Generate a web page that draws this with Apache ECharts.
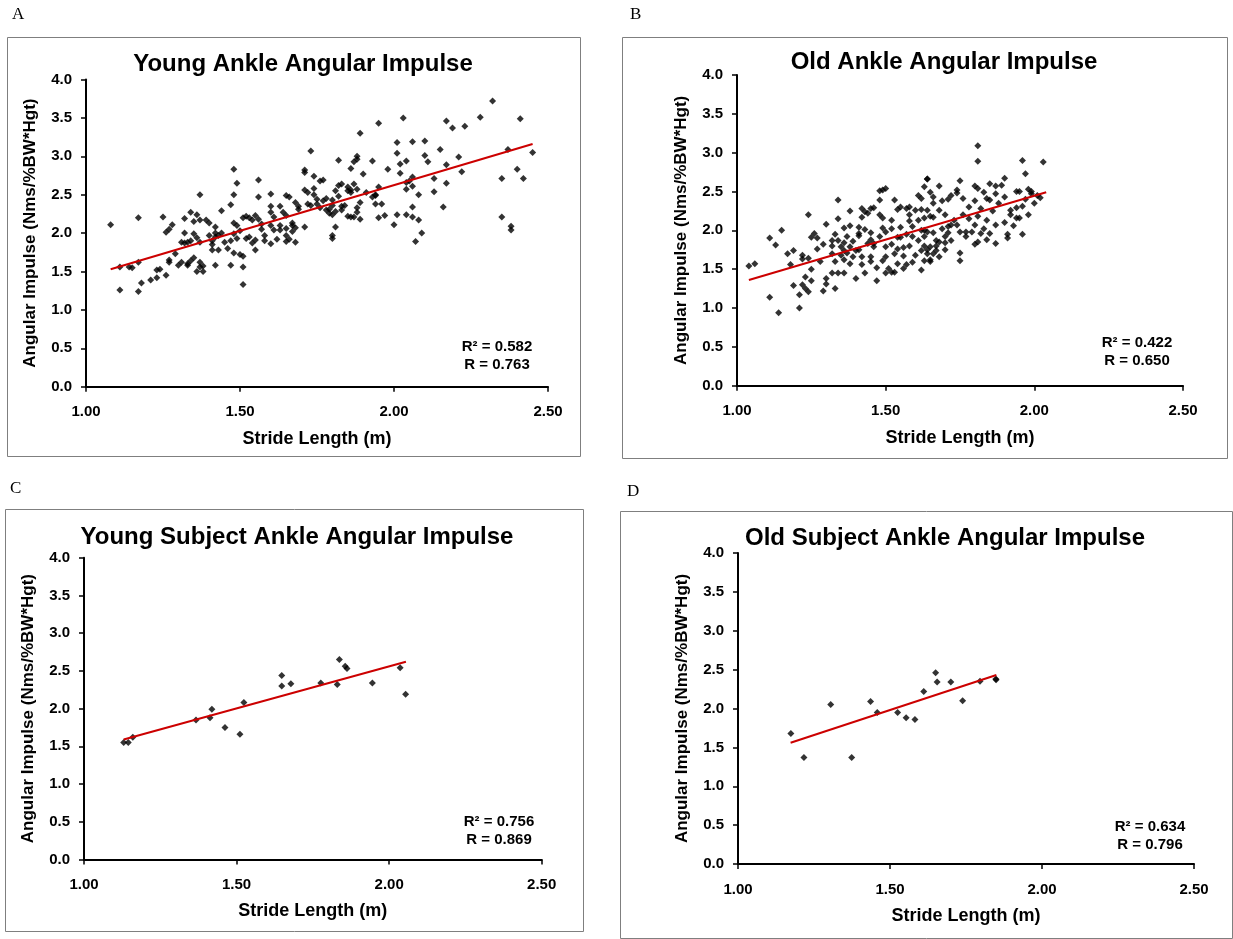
<!DOCTYPE html>
<html>
<head>
<meta charset="utf-8">
<script src="https://cdn.jsdelivr.net/npm/echarts@6/dist/echarts.min.js"></script>
<style>
html, body { margin: 0; padding: 0; background: #fff; }
#main { width: 1233px; height: 939px; }
</style>
</head>
<body>
<div id="main"></div>
<script>
// stride length (m), angular impulse (Nms/%BW*Hgt)
var youngAnkle = [
	[1.08,2.11],[1.17,2.20],[1.25,2.21],[1.28,2.11],[1.26,2.01],[1.27,2.05],
	[1.11,1.56],[1.14,1.56],[1.15,1.55],[1.17,1.62],[1.11,1.26],[1.17,1.24],[1.18,1.35],[1.21,1.39],
	[1.23,1.42],[1.24,1.53],[1.23,1.52],[1.26,1.45],[1.27,1.65],[1.27,1.62],[1.29,1.73],
	[1.31,1.88],[1.32,1.87],[1.33,1.88],[1.34,1.90],[1.30,1.58],[1.31,1.62],[1.33,1.60],[1.34,1.64],[1.33,1.58],
	[1.32,2.19],[1.34,2.27],[1.36,2.24],[1.37,2.17],[1.35,2.15],[1.32,2.00],[1.35,1.99],[1.36,1.94],[1.37,1.88],
	[1.35,1.68],[1.36,1.50],[1.37,1.56],[1.38,1.57],[1.38,1.50],[1.37,1.62],
	[1.37,2.50],[1.39,2.17],[1.40,2.13],[1.42,2.08],[1.40,1.97],[1.41,1.90],[1.42,1.95],[1.41,1.85],[1.41,1.78],
	[1.42,1.58],[1.44,2.29],[1.47,2.37],[1.48,2.83],[1.49,2.65],[1.48,2.50],
	[1.42,2.00],[1.43,1.97],[1.44,2.00],[1.45,1.88],[1.43,1.78],[1.46,1.80],
	[1.47,1.58],[1.48,2.13],[1.49,2.10],[1.50,2.03],[1.48,1.99],[1.49,1.93],[1.47,1.90],
	[1.48,1.74],[1.50,1.72],[1.51,1.70],[1.51,1.56],[1.51,1.33],
	[1.51,2.20],[1.52,2.22],[1.53,2.20],[1.54,2.17],[1.52,1.93],[1.53,1.95],[1.54,1.87],[1.55,1.91],[1.55,1.78],
	[1.56,2.69],[1.56,2.47],[1.55,2.23],[1.56,2.18],[1.57,2.12],[1.57,2.05],[1.58,1.97],
	[1.60,2.51],[1.60,2.35],[1.60,2.27],[1.61,2.21],[1.60,2.10],[1.61,2.04],[1.58,1.90],[1.60,1.86],
	[1.63,2.35],[1.64,2.27],[1.65,2.23],[1.63,2.10],[1.65,2.06],[1.63,2.04],[1.62,1.92],[1.65,1.97],[1.66,1.92],
	[1.65,2.49],[1.66,2.47],[1.67,2.10],[1.67,2.13],[1.68,2.07],[1.67,2.02],[1.65,1.89],[1.68,1.88],
	[1.68,2.40],[1.69,2.35],[1.69,2.31],[1.71,2.82],[1.71,2.79],[1.73,3.07],[1.71,2.56],[1.71,2.08],
	[1.72,2.53],[1.74,2.58],[1.74,2.50],[1.75,2.44],[1.74,2.74],[1.76,2.68],
	[1.72,2.38],[1.73,2.36],[1.75,2.38],[1.76,2.33],[1.78,2.45],[1.79,2.31],
	[2.32,3.72],[2.41,3.49],[2.28,3.51],[2.23,3.39],[2.19,3.37],[2.17,3.46],[2.03,3.50],[1.95,3.43],[1.89,3.30],
	[2.01,3.18],[2.06,3.19],[2.10,3.20],[2.01,3.04],[2.15,3.09],[2.37,3.09],[2.45,3.05],[2.10,3.01],[2.11,2.93],
	[2.04,2.94],[2.02,2.90],[2.21,2.99],[2.17,2.89],[2.22,2.80],[1.98,2.83],[1.93,2.94],[1.82,2.95],[1.87,2.93],
	[1.88,2.96],[1.88,3.00],[1.86,2.84],[1.90,2.77],[2.02,2.78],[2.40,2.83],[2.35,2.71],[2.42,2.71],[2.13,2.71],[2.17,2.65],
	[2.06,2.73],[2.05,2.68],[2.04,2.66],[2.04,2.57],[2.06,2.61],[2.13,2.54],[2.08,2.50],[2.16,2.34],[1.77,2.69],
	[1.82,2.62],[1.83,2.64],[1.85,2.60],[1.86,2.56],[1.87,2.64],[1.88,2.57],[1.86,2.53],[1.85,2.55],
	[1.91,2.53],[1.93,2.47],[1.94,2.50],[1.94,2.49],[1.95,2.60],
	[1.77,2.42],[1.80,2.43],[1.81,2.55],[1.82,2.48],[1.83,2.35],[1.84,2.36],[1.80,2.36],
	[1.78,2.30],[1.79,2.26],[1.81,2.28],[1.83,2.30],[1.80,2.24],
	[1.89,2.40],[1.88,2.33],[1.88,2.27],[1.87,2.21],[1.86,2.21],[1.89,2.18],[1.85,2.22],
	[1.81,2.08],[1.80,1.97],[1.80,1.93],
	[1.94,2.38],[1.96,2.38],[1.95,2.20],[1.97,2.23],[2.00,2.11],[2.01,2.24],[2.04,2.24],[2.06,2.21],[2.06,2.34],
	[2.08,2.17],[2.09,2.00],[2.07,1.89],[2.35,2.21],[2.38,2.09],[2.38,2.04]
];
var oldAnkle = [
	[1.04,1.54],[1.06,1.57],[1.11,1.14],[1.14,0.94],[1.11,1.90],[1.13,1.81],[1.15,2.00],[1.17,1.70],[1.18,1.56],
	[1.19,1.74],[1.19,1.29],[1.21,1.17],[1.21,1.00],[1.22,1.63],[1.22,1.68],[1.23,1.40],[1.22,1.30],[1.23,1.25],
	[1.24,1.21],[1.24,2.20],[1.24,1.64],[1.25,1.91],[1.25,1.35],[1.25,1.50],[1.26,1.96],[1.27,1.90],[1.27,1.76],
	[1.28,1.60],[1.29,1.22],[1.29,1.82],[1.30,1.31],[1.30,1.38],[1.30,2.08],
	[1.32,1.80],[1.32,1.87],[1.33,1.95],[1.32,1.70],[1.33,1.60],[1.33,1.25],[1.32,1.45],
	[1.34,2.39],[1.34,2.15],[1.34,1.87],[1.35,1.79],[1.36,1.84],[1.36,1.74],[1.35,1.68],[1.36,1.62],[1.34,1.45],[1.36,1.45],
	[1.36,2.03],[1.38,2.25],[1.38,2.06],[1.37,1.92],[1.38,1.79],[1.37,1.71],[1.38,1.57],[1.39,1.66],[1.40,1.74],[1.39,1.86],[1.40,1.38],
	[1.41,1.96],[1.41,2.04],[1.42,2.17],[1.42,2.28],[1.41,1.93],[1.41,1.75],[1.42,1.66],[1.42,1.56],
	[1.43,2.24],[1.44,2.22],[1.43,2.01],[1.44,1.83],[1.45,1.66],[1.45,1.60],[1.45,1.88],[1.43,1.45],
	[1.45,2.28],[1.46,2.29],[1.45,1.97],[1.46,1.83],[1.47,1.35],[1.46,1.79],[1.47,1.52],
	[1.48,2.39],[1.48,2.51],[1.49,2.52],[1.50,2.54],
	[1.48,2.20],[1.49,2.03],[1.48,1.92],[1.50,1.79],[1.50,1.66],[1.49,1.61],[1.49,2.16],[1.50,1.98],[1.50,1.45],
	[1.51,1.51],[1.52,1.46],[1.53,1.46],
	[1.53,2.39],[1.52,2.13],[1.52,2.02],[1.54,1.91],[1.52,1.82],[1.53,1.70],[1.54,1.76],
	[1.54,2.27],[1.55,2.30],[1.57,2.28],[1.58,2.30],
	[1.55,2.04],[1.55,1.91],[1.56,1.78],[1.56,1.67],[1.57,1.56],[1.56,1.51],[1.54,1.57],
	[1.58,2.20],[1.59,2.05],[1.58,1.80],[1.60,1.68],[1.59,1.59],[1.58,2.12],[1.57,1.95],[1.59,1.92],
	[1.60,2.26],[1.61,2.13],[1.62,2.00],[1.61,1.87],[1.62,1.74],[1.63,1.61],[1.62,1.49],
	[1.61,2.45],[1.62,2.41],[1.63,2.56],[1.64,2.66],[1.62,2.27],[1.63,2.16],[1.64,1.98],[1.65,1.79],[1.64,1.70],[1.65,1.60],
	[1.66,2.35],[1.66,2.17],[1.67,1.87],[1.67,1.74],
	[1.81,3.09],[1.81,2.89],[1.96,2.90],[2.03,2.88],[1.97,2.73],[1.90,2.67],[1.85,2.60],[1.87,2.57],[1.89,2.58],
	[1.80,2.57],[1.81,2.54],[1.83,2.49],[1.84,2.41],[1.85,2.39],[1.75,2.64],[1.68,2.57],[1.64,2.66],[1.65,2.49],
	[1.66,2.43],[1.69,2.38],[1.71,2.40],[1.72,2.45],[1.74,2.52],[1.74,2.48],[1.76,2.41],[1.80,2.38],[1.94,2.50],
	[1.95,2.50],[1.98,2.53],[1.99,2.50],[2.01,2.45],[2.02,2.42],[1.87,2.47],[1.90,2.43],[1.96,2.31],[1.94,2.29],
	[1.92,2.26],[1.94,2.16],[1.95,2.16],[1.93,2.06],[1.96,1.95],[1.91,1.95],[1.91,1.90],[1.87,1.83],[1.87,2.07],
	[1.84,2.13],[1.82,2.28],[1.81,2.18],[1.80,2.07],[1.79,1.98],[1.77,1.92],[1.75,1.98],[1.74,2.07],[1.73,2.13],
	[1.70,2.20],[1.68,2.26],[1.65,2.18],[1.64,2.26],[1.85,1.96],[1.84,1.88],[1.82,1.96],[1.81,1.85],[1.80,1.82],
	[1.77,1.98],[1.75,1.61],[1.75,1.71],[1.70,1.75],[1.70,1.84],[1.68,1.85],[1.67,1.80],[1.66,1.70],[1.68,1.66],
	[1.65,1.62],[1.64,1.75],[1.63,1.80],[1.71,1.97],[1.72,2.07],[1.71,2.05],[1.63,1.92],[1.66,1.97],[1.63,2.00],
	[1.69,2.02],[1.70,1.92],[1.72,1.87],[1.76,2.20],[1.78,2.15],[1.78,2.30],[1.83,2.02],[1.86,2.25],[1.88,2.35],
	[1.90,2.10],[1.92,2.20],[1.97,2.40],[1.98,2.20],[2.00,2.35],[1.99,2.47]
];
var youngSubject = [
	[1.13,1.55],[1.145,1.55],[1.16,1.62],[1.367,1.85],[1.413,1.88],[1.419,1.99],[1.462,1.75],[1.511,1.66],
	[1.524,2.08],[1.648,2.44],[1.648,2.30],[1.678,2.33],[1.776,2.34],[1.83,2.32],[1.837,2.65],[1.856,2.56],
	[1.862,2.53],[1.945,2.34],[2.036,2.54],[2.054,2.19]
];
var oldSubject = [
	[1.174,1.68],[1.217,1.37],[1.305,2.05],[1.374,1.37],[1.436,2.09],[1.458,1.95],[1.525,1.95],[1.553,1.88],
	[1.582,1.86],[1.611,2.22],[1.650,2.46],[1.655,2.34],[1.70,2.34],[1.739,2.10],[1.796,2.35],[1.848,2.38],[1.849,2.37]
];
// trend line end points
var youngAnkleFit = [[1.08,1.53],[2.45,3.16]];
var oldAnkleFit = [[1.04,1.36],[2.04,2.49]];
var youngSubjectFit = [[1.13,1.59],[2.055,2.62]];
var oldSubjectFit = [[1.173,1.56],[1.85,2.43]];

var panelTitles = ['Young Ankle Angular Impulse', 'Old Ankle Angular Impulse', 'Young Subject Ankle Angular Impulse', 'Old Subject Ankle Angular Impulse'];
var fitTexts = [['R\u00b2 = 0.582', 'R = 0.763'], ['R\u00b2 = 0.422', 'R = 0.650'], ['R\u00b2 = 0.756', 'R = 0.869'], ['R\u00b2 = 0.634', 'R = 0.796']];
var panelLetters = ['A', 'B', 'C', 'D'];

var FONT = "'Liberation Sans', Arial, sans-serif";

// plot areas: left, top, width, height
var grids = [
	{ left : 86, top : 79.5, width : 462, height : 307.2 },
	{ left : 737, top : 75, width : 446, height : 310.7 },
	{ left : 84, top : 557.7, width : 457.7, height : 301.8 },
	{ left : 738, top : 553, width : 456, height : 311 }
];
var titlePos = [[298, 47], [939, 45], [292, 520], [940, 521]];
var fitPos = [[497, 356], [1137, 352], [499, 831], [1150, 836]];
var letterPos = [[12, 6], [630, 6], [10, 480], [627, 483]];
var boxes = [[7, 37, 573, 419], [622, 37, 605, 421], [5, 509, 578, 422], [620, 511, 612, 427]];

function makeX(i) {
	return {
		type : 'value', gridIndex : i, min : 1, max : 2.5, interval : 0.5,
		name : 'Stride Length (m)', nameLocation : 'middle', nameGap : 43,
		nameTextStyle : { fontFamily : FONT, fontWeight : 'bold', fontSize : 18, color : '#000' },
		axisLine : { lineStyle : { color : '#000', width : 2 } },
		axisTick : { show : true, length : 5, lineStyle : { color : '#000', width : 1.5 } },
		axisLabel : {
			margin : 18, fontFamily : FONT, fontWeight : 'bold', fontSize : 15, color : '#000',
			formatter : function(v) { return v.toFixed(2); }
		},
		splitLine : { show : false }
	};
}

function makeY(i) {
	return {
		type : 'value', gridIndex : i, min : 0, max : 4, interval : 0.5,
		name : 'Angular Impulse (Nms/%BW*Hgt)', nameLocation : 'middle', nameGap : 47,
		nameTextStyle : { fontFamily : FONT, fontWeight : 'bold', fontSize : 17, color : '#000' },
		axisLine : { show : true, lineStyle : { color : '#000', width : 2 } },
		axisTick : { show : true, length : 5, lineStyle : { color : '#000', width : 1.5 } },
		axisLabel : {
			margin : 14, fontFamily : FONT, fontWeight : 'bold', fontSize : 15, color : '#000',
			formatter : function(v) { return v.toFixed(1); }
		},
		splitLine : { show : false }
	};
}

var points = [youngAnkle, oldAnkle, youngSubject, oldSubject];
var fits = [youngAnkleFit, oldAnkleFit, youngSubjectFit, oldSubjectFit];

var option = {
	backgroundColor : '#fff',
	animation : false,
	title : [],
	grid : grids,
	xAxis : [],
	yAxis : [],
	series : [],
	graphic : []
};

for (var i = 0; i < 4; i++) {
	option.xAxis.push(makeX(i));
	option.yAxis.push(makeY(i));
	option.title.push({
		text : panelTitles[i], left : titlePos[i][0], top : titlePos[i][1], textAlign : 'center',
		textStyle : { fontFamily : FONT, fontWeight : 'bold', fontSize : 24, color : '#000' }
	});
	option.series.push({
		type : 'scatter', xAxisIndex : i, yAxisIndex : i,
		symbol : 'diamond', symbolSize : 7,
		itemStyle : { color : '#000' },
		data : points[i], z : 2
	});
	option.series.push({
		type : 'line', xAxisIndex : i, yAxisIndex : i,
		showSymbol : false, symbol : 'none',
		lineStyle : { color : '#cc0000', width : 2 },
		data : fits[i], z : 3
	});
	option.graphic.push({
		type : 'rect', silent : true, z : -1,
		shape : { x : boxes[i][0] + 0.5, y : boxes[i][1] + 0.5, width : boxes[i][2], height : boxes[i][3] },
		style : { fill : null, stroke : '#7f7f7f', lineWidth : 1 }
	});
	option.graphic.push({
		type : 'text', silent : true,
		left : letterPos[i][0], top : letterPos[i][1],
		style : { text : panelLetters[i], font : '17px "Liberation Serif", "Times New Roman", serif', fill : '#000' }
	});
	option.graphic.push({
		type : 'text', silent : true,
		x : fitPos[i][0], y : fitPos[i][1],
		style : {
			text : fitTexts[i][0] + '\n' + fitTexts[i][1], align : 'center', verticalAlign : 'middle',
			font : 'bold 15px ' + FONT, fill : '#000', lineHeight : 18
		}
	});
}

var myChart = echarts.init(document.getElementById('main'));
myChart.setOption(option);
</script>
</body>
</html>
